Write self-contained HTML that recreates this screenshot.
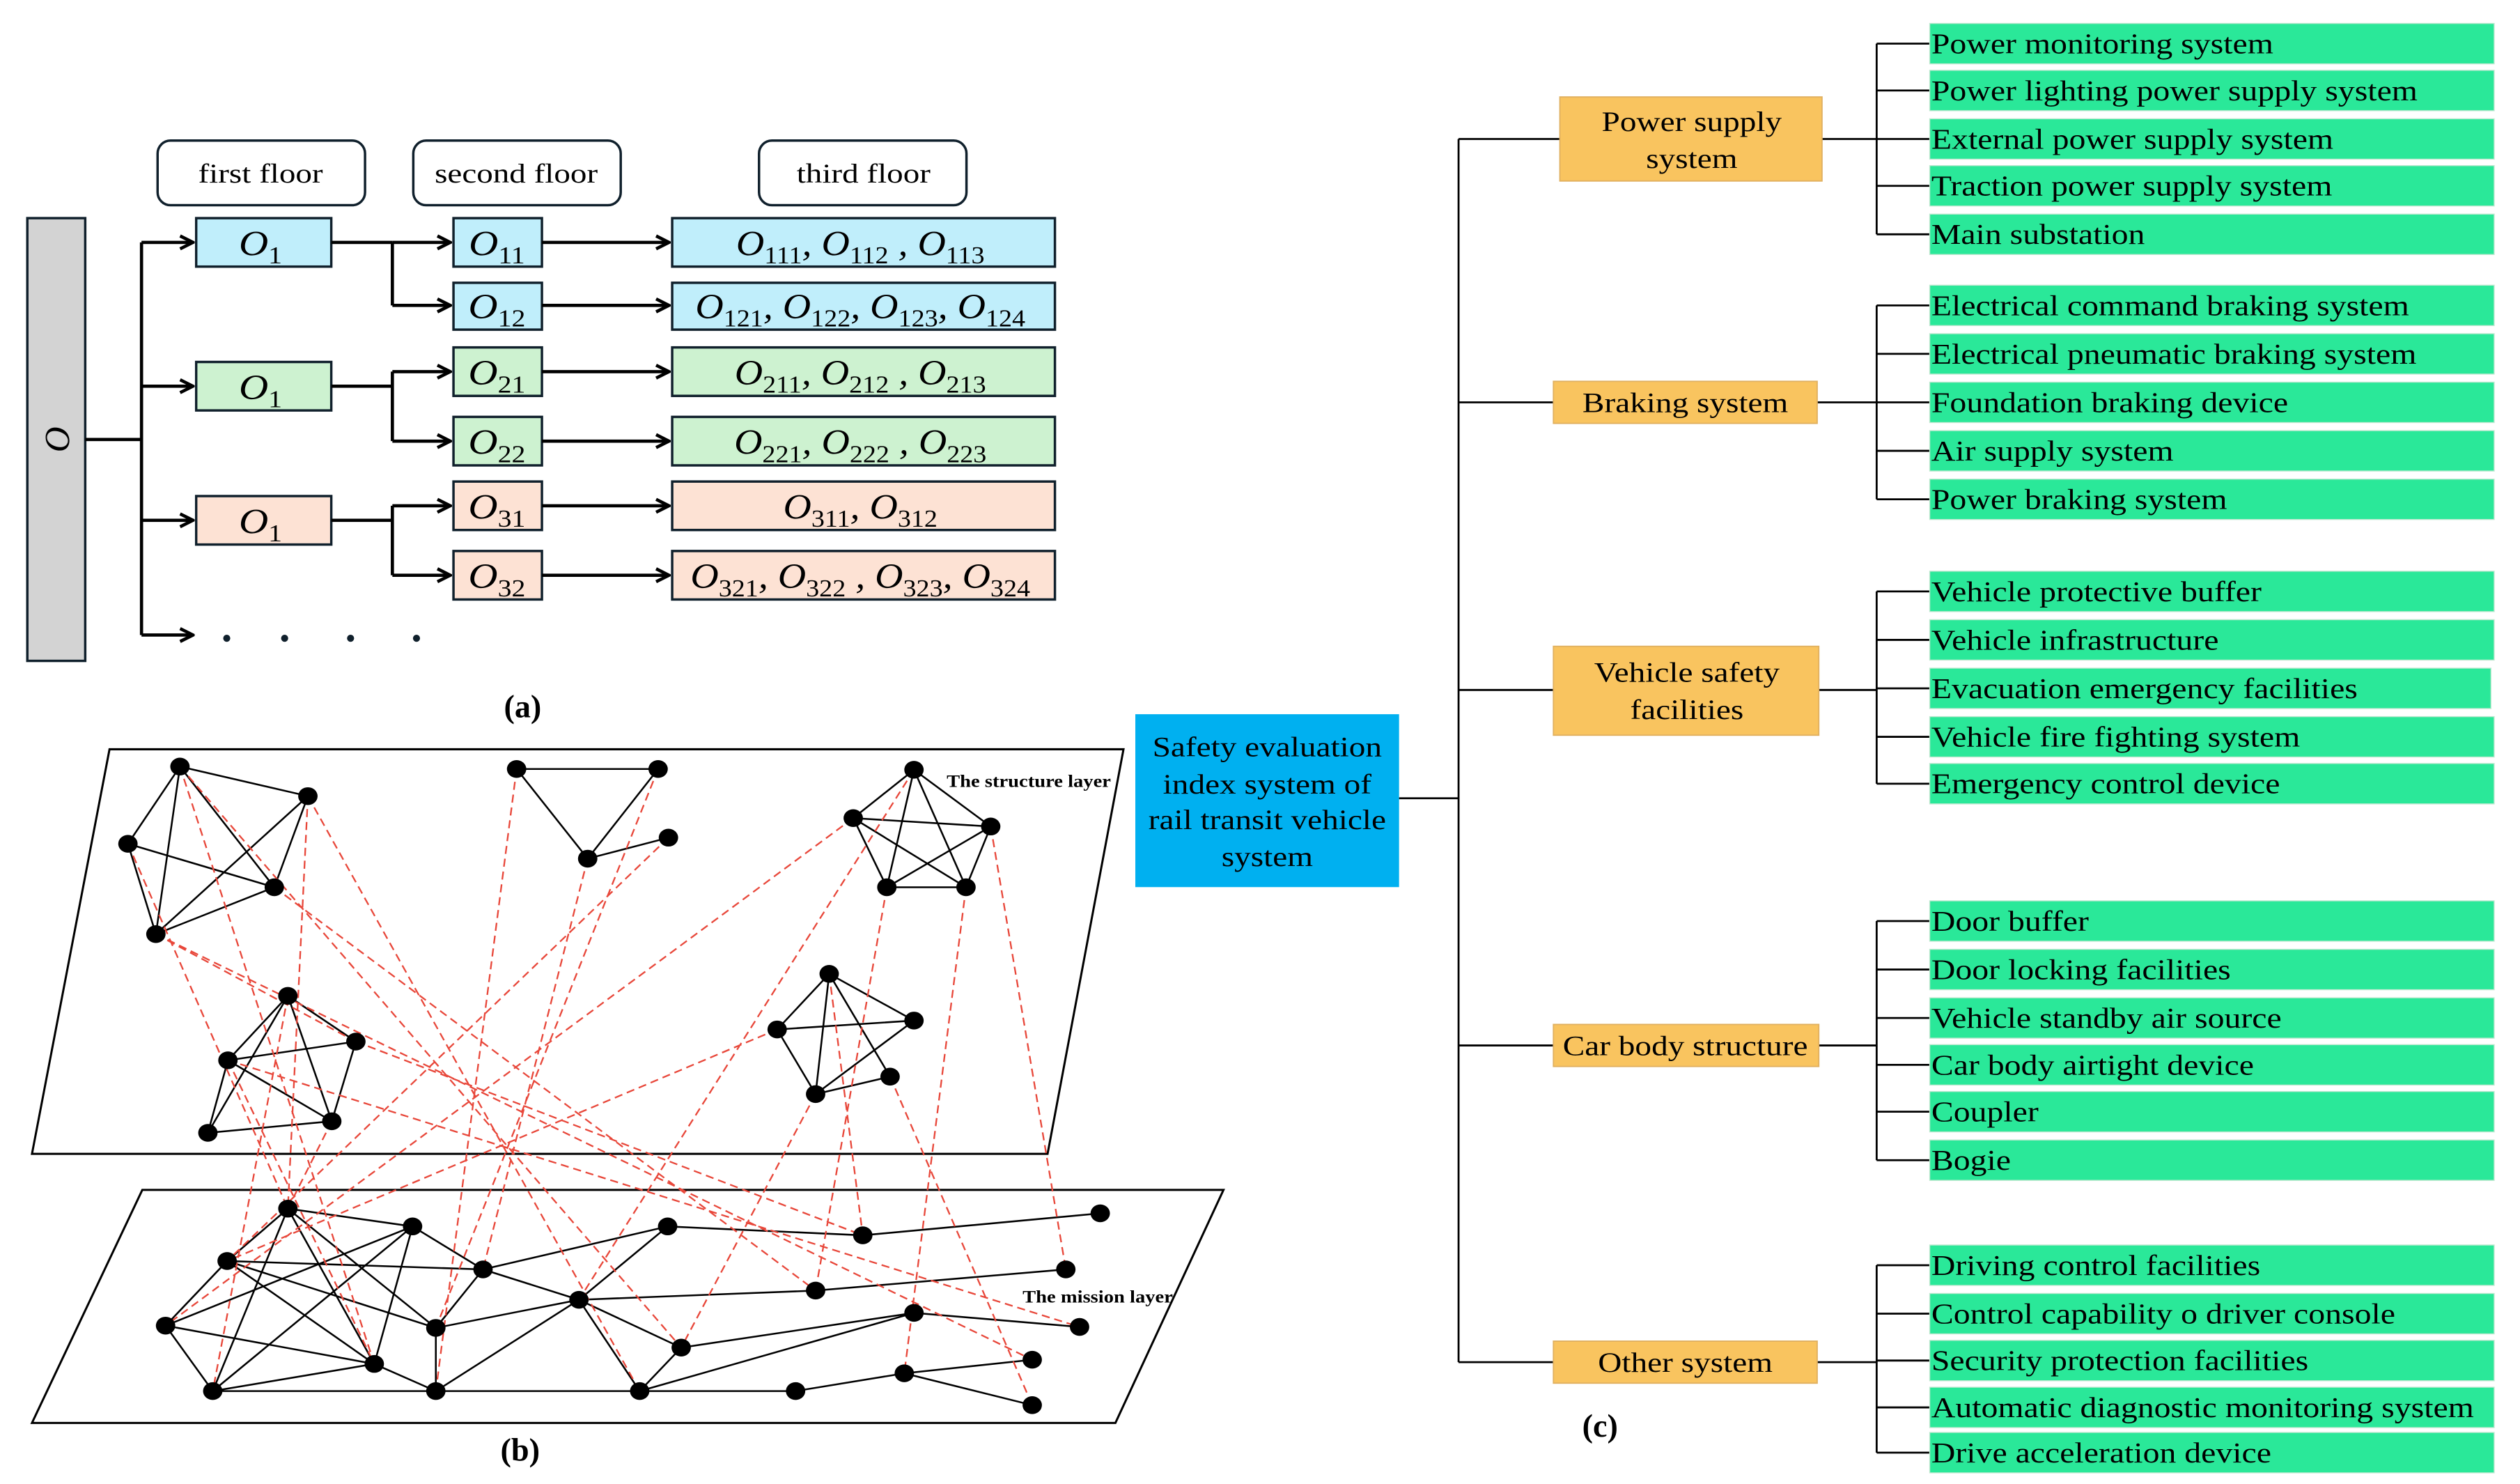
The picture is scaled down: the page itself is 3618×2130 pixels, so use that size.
<!DOCTYPE html>
<html><head><meta charset="utf-8"><style>
html,body{margin:0;padding:0;background:#fff}
svg{display:block}
text{font-family:"Liberation Serif",serif}
.o{font-style:italic;font-size:22px}
.s{font-style:normal;font-size:15px}
</style></head><body>
<svg width="3618" height="2130" viewBox="0 0 1560 918.4" xmlns="http://www.w3.org/2000/svg">
<defs><marker id="ar" markerWidth="10" markerHeight="10" refX="9" refY="5" orient="auto" markerUnits="userSpaceOnUse"><path d="M1,1 L9,5 L1,9" fill="none" stroke="#000" stroke-width="2"/></marker></defs>
<rect width="1560" height="918.4" fill="#fff"/>
<g transform="scale(0.9955,1)">
<!-- (a) -->
<g stroke="#10202c" stroke-width="1.5">
<rect x="98" y="87" width="129" height="40" rx="8" fill="#fff"/>
<rect x="257" y="87" width="129" height="40" rx="8" fill="#fff"/>
<rect x="472" y="87" width="129" height="40" rx="8" fill="#fff"/>
<rect x="17" y="135" width="36" height="274" fill="#d3d3d3"/>
<rect x="122" y="135" width="84" height="30" fill="#c0eefb"/>
<rect x="122" y="224" width="84" height="30" fill="#cdf2d0"/>
<rect x="122" y="307" width="84" height="30" fill="#fde2d4"/>
<rect x="282" y="135" width="55" height="30" fill="#c0eefb"/>
<rect x="282" y="175" width="55" height="29" fill="#c0eefb"/>
<rect x="282" y="215" width="55" height="30" fill="#cdf2d0"/>
<rect x="282" y="258" width="55" height="30" fill="#cdf2d0"/>
<rect x="282" y="298" width="55" height="30" fill="#fde2d4"/>
<rect x="282" y="341" width="55" height="30" fill="#fde2d4"/>
<rect x="418" y="135" width="238" height="30" fill="#c0eefb"/>
<rect x="418" y="175" width="238" height="29" fill="#c0eefb"/>
<rect x="418" y="215" width="238" height="30" fill="#cdf2d0"/>
<rect x="418" y="258" width="238" height="30" fill="#cdf2d0"/>
<rect x="418" y="298" width="238" height="30" fill="#fde2d4"/>
<rect x="418" y="341" width="238" height="30" fill="#fde2d4"/>
</g>
<g stroke="#000" stroke-width="2" fill="none">
<path d="M53,272 H88 M88,150 V393"/>
<path d="M88,150 H120" marker-end="url(#ar)"/><path d="M88,239 H120" marker-end="url(#ar)"/>
<path d="M88,322 H120" marker-end="url(#ar)"/><path d="M88,393 H120" marker-end="url(#ar)"/>
<path d="M206,150 H244 M244,150 V189 M206,239 H244 M244,230 V273 M206,322 H244 M244,313 V356"/>
<path d="M244,150 H280" marker-end="url(#ar)"/><path d="M244,189 H280" marker-end="url(#ar)"/>
<path d="M244,230 H280" marker-end="url(#ar)"/><path d="M244,273 H280" marker-end="url(#ar)"/>
<path d="M244,313 H280" marker-end="url(#ar)"/><path d="M244,356 H280" marker-end="url(#ar)"/>
<path d="M337,150 H416" marker-end="url(#ar)"/><path d="M337,189 H416" marker-end="url(#ar)"/>
<path d="M337,230 H416" marker-end="url(#ar)"/><path d="M337,273 H416" marker-end="url(#ar)"/>
<path d="M337,313 H416" marker-end="url(#ar)"/><path d="M337,356 H416" marker-end="url(#ar)"/>
</g>
<g fill="#10202c"><circle cx="141" cy="395" r="2.2"/><circle cx="177" cy="395" r="2.2"/><circle cx="218" cy="395" r="2.2"/><circle cx="259" cy="395" r="2.2"/></g>
<g font-size="17" text-anchor="middle">
<text transform="translate(162,113) scale(1.2,1)">first floor</text><text transform="translate(321,113) scale(1.2,1)">second floor</text><text transform="translate(537,113) scale(1.2,1)">third floor</text>
</g>
<text class="o" transform="translate(43,272) rotate(-90)" text-anchor="middle">O</text>
<g text-anchor="middle">
<text class="o" transform="translate(162,158) scale(1.15,1)">O<tspan class="s" dy="5">1</tspan></text>
<text class="o" transform="translate(162,247) scale(1.15,1)">O<tspan class="s" dy="5">1</tspan></text>
<text class="o" transform="translate(162,330) scale(1.15,1)">O<tspan class="s" dy="5">1</tspan></text>
<text class="o" transform="translate(309,158) scale(1.15,1)">O<tspan class="s" dy="5">11</tspan></text>
<text class="o" transform="translate(309,197) scale(1.15,1)">O<tspan class="s" dy="5">12</tspan></text>
<text class="o" transform="translate(309,238) scale(1.15,1)">O<tspan class="s" dy="5">21</tspan></text>
<text class="o" transform="translate(309,281) scale(1.15,1)">O<tspan class="s" dy="5">22</tspan></text>
<text class="o" transform="translate(309,321) scale(1.15,1)">O<tspan class="s" dy="5">31</tspan></text>
<text class="o" transform="translate(309,364) scale(1.15,1)">O<tspan class="s" dy="5">32</tspan></text>
<text class="o" transform="translate(535,158) scale(1.1,1)">O<tspan class="s" dy="5">111</tspan><tspan dy="-5">, O</tspan><tspan class="s" dy="5">112</tspan><tspan dy="-5"> , O</tspan><tspan class="s" dy="5">113</tspan></text>
<text class="o" transform="translate(535,197) scale(1.1,1)">O<tspan class="s" dy="5">121</tspan><tspan dy="-5">, O</tspan><tspan class="s" dy="5">122</tspan><tspan dy="-5">, O</tspan><tspan class="s" dy="5">123</tspan><tspan dy="-5">, O</tspan><tspan class="s" dy="5">124</tspan></text>
<text class="o" transform="translate(535,238) scale(1.1,1)">O<tspan class="s" dy="5">211</tspan><tspan dy="-5">, O</tspan><tspan class="s" dy="5">212</tspan><tspan dy="-5"> , O</tspan><tspan class="s" dy="5">213</tspan></text>
<text class="o" transform="translate(535,281) scale(1.1,1)">O<tspan class="s" dy="5">221</tspan><tspan dy="-5">, O</tspan><tspan class="s" dy="5">222</tspan><tspan dy="-5"> , O</tspan><tspan class="s" dy="5">223</tspan></text>
<text class="o" transform="translate(535,321) scale(1.1,1)">O<tspan class="s" dy="5">311</tspan><tspan dy="-5">, O</tspan><tspan class="s" dy="5">312</tspan></text>
<text class="o" transform="translate(535,364) scale(1.1,1)">O<tspan class="s" dy="5">321</tspan><tspan dy="-5">, O</tspan><tspan class="s" dy="5">322</tspan><tspan dy="-5"> , O</tspan><tspan class="s" dy="5">323</tspan><tspan dy="-5">, O</tspan><tspan class="s" dy="5">324</tspan></text>
</g>
<text x="325" y="444" font-size="20" font-weight="bold" text-anchor="middle">(a)</text>

<!-- (c) -->
<g stroke="#000" stroke-width="1.2" fill="none">
<path d="M870,494H907M907,86V843M907,86H970M907,249H966M907,427H966M907,647H966M907,843H966"/>
<path d="M1133,86H1167M1167,27V145M1167,27H1200M1167,56H1200M1167,86H1200M1167,115H1200M1167,145H1200"/>
<path d="M1130,249H1167M1167,189V309M1167,189H1200M1167,219H1200M1167,249H1200M1167,279H1200M1167,309H1200"/>
<path d="M1131,427H1167M1167,366V485M1167,366H1200M1167,396H1200M1167,426H1200M1167,456H1200M1167,485H1200"/>
<path d="M1131,647H1167M1167,570V718M1167,570H1200M1167,600H1200M1167,630H1200M1167,659H1200M1167,688H1200M1167,718H1200"/>
<path d="M1130,843H1167M1167,783V899M1167,783H1200M1167,813H1200M1167,842H1200M1167,871H1200M1167,899H1200"/>
</g>
<rect x="706" y="442" width="164" height="107" fill="#00b0f0"/>
<g font-size="17.5" text-anchor="middle">
<text transform="translate(788,468) scale(1.17,1)">Safety evaluation</text><text transform="translate(788,491) scale(1.17,1)">index system of</text><text transform="translate(788,513) scale(1.17,1)">rail transit vehicle</text><text transform="translate(788,536) scale(1.17,1)">system</text>
</g>
<g fill="#f9c45f" stroke="#e0b060" stroke-width="0.8">
<rect x="970" y="60" width="163" height="52"/><rect x="966" y="236" width="164" height="26"/><rect x="966" y="400" width="165" height="55"/><rect x="966" y="634" width="165" height="26"/><rect x="966" y="830" width="164" height="26"/>
</g>
<g font-size="17.5" text-anchor="middle">
<text transform="translate(1052,81) scale(1.17,1)">Power supply</text><text transform="translate(1052,104) scale(1.17,1)">system</text>
<text transform="translate(1048,255) scale(1.17,1)">Braking system</text>
<text transform="translate(1049,422) scale(1.17,1)">Vehicle safety</text><text transform="translate(1049,445) scale(1.17,1)">facilities</text>
<text transform="translate(1048,653) scale(1.17,1)">Car body structure</text>
<text transform="translate(1048,849) scale(1.17,1)">Other system</text>
</g>
<g fill="#2ae899" stroke="#bfe8d0" stroke-width="0.6">
<rect x="1200" y="14.5" width="351" height="25"/><rect x="1200" y="43.5" width="351" height="25"/><rect x="1200" y="73.5" width="351" height="25"/><rect x="1200" y="102.5" width="351" height="25"/><rect x="1200" y="132.5" width="351" height="25"/>
<rect x="1200" y="176.5" width="351" height="25"/><rect x="1200" y="206.5" width="351" height="25"/><rect x="1200" y="236.5" width="351" height="25"/><rect x="1200" y="266.5" width="351" height="25"/><rect x="1200" y="296.5" width="351" height="25"/>
<rect x="1200" y="353.5" width="351" height="25"/><rect x="1200" y="383.5" width="351" height="25"/><rect x="1200" y="413.5" width="349" height="25"/><rect x="1200" y="443.5" width="351" height="25"/><rect x="1200" y="472.5" width="351" height="25"/>
<rect x="1200" y="557.5" width="351" height="25"/><rect x="1200" y="587.5" width="351" height="25"/><rect x="1200" y="617.5" width="351" height="25"/><rect x="1200" y="646.5" width="351" height="25"/><rect x="1200" y="675.5" width="351" height="25"/><rect x="1200" y="705.5" width="351" height="25"/>
<rect x="1200" y="770.5" width="351" height="25"/><rect x="1200" y="800.5" width="351" height="25"/><rect x="1200" y="829.5" width="351" height="25"/><rect x="1200" y="858.5" width="351" height="25"/><rect x="1200" y="886.5" width="351" height="25"/>
</g>
<g transform="translate(1201,0) scale(1.15,1)" font-size="18">
<text x="0" y="33">Power monitoring system</text><text x="0" y="62">Power lighting power supply system</text><text x="0" y="92">External power supply system</text><text x="0" y="121">Traction power supply system</text><text x="0" y="151">Main substation</text>
<text x="0" y="195">Electrical command braking system</text><text x="0" y="225">Electrical pneumatic braking system</text><text x="0" y="255">Foundation braking device</text><text x="0" y="285">Air supply system</text><text x="0" y="315">Power braking system</text>
<text x="0" y="372">Vehicle protective buffer</text><text x="0" y="402">Vehicle infrastructure</text><text x="0" y="432">Evacuation emergency facilities</text><text x="0" y="462">Vehicle fire fighting system</text><text x="0" y="491">Emergency control device</text>
<text x="0" y="576">Door buffer</text><text x="0" y="606">Door locking facilities</text><text x="0" y="636">Vehicle standby air source</text><text x="0" y="665">Car body airtight device</text><text x="0" y="694">Coupler</text><text x="0" y="724">Bogie</text>
<text x="0" y="789">Driving control facilities</text><text x="0" y="819">Control capability o driver console</text><text x="0" y="848">Security protection facilities</text><text x="0" y="877">Automatic diagnostic monitoring system</text><text x="0" y="905">Drive acceleration device</text>
</g>
<text x="995" y="889" font-size="20" font-weight="bold" text-anchor="middle">(c)</text>
</g>

<!-- (b) -->
<polygon points="67.8,463.7 695.5,463.7 648.5,714.1 19.8,714.1" fill="none" stroke="#000" stroke-width="1.3"/>
<polygon points="88.1,736.4 757.4,736.4 690.5,880.6 19.8,880.6" fill="none" stroke="#000" stroke-width="1.3"/>
<text transform="translate(586,487) scale(1.12,1)" font-size="11" font-weight="bold">The structure layer</text>
<text transform="translate(633,806) scale(1.12,1)" font-size="11" font-weight="bold">The mission layer</text>
<text x="322" y="904" font-size="20" font-weight="bold" text-anchor="middle">(b)</text>
<g stroke="#000" stroke-width="1.1">
<path d="M111.4,474.4L190.6,492.7M111.4,474.4L79.2,522.2M111.4,474.4L169.8,549.1M111.4,474.4L96.5,578.1M79.2,522.2L169.8,549.1M79.2,522.2L96.5,578.1M190.6,492.7L96.5,578.1M190.6,492.7L169.8,549.1M169.8,549.1L96.5,578.1"/>
<path d="M178.2,616.3L220.3,644.6M178.2,616.3L141.1,656.2M178.2,616.3L128.7,701.1M178.2,616.3L205.4,693.9M141.1,656.2L220.3,644.6M141.1,656.2L205.4,693.9M220.3,644.6L205.4,693.9M128.7,701.1L205.4,693.9M141.1,656.2L128.7,701.1"/>
<path d="M319.8,475.9L407.4,475.9M319.8,475.9L363.8,531.4M407.4,475.9L363.8,531.4M363.8,531.4L413.8,518.4"/>
<path d="M565.8,476.4L528.2,506.3M565.8,476.4L613.3,511.5M565.8,476.4L549,549.1M565.8,476.4L598,549.1M528.2,506.3L613.3,511.5M528.2,506.3L549,549.1M528.2,506.3L598,549.1M613.3,511.5L549,549.1M613.3,511.5L598,549.1M549,549.1L598,549.1"/>
<path d="M513.3,602.7L481.1,637.1M513.3,602.7L565.8,631.6M513.3,602.7L504.9,677.1M513.3,602.7L551,666.3M481.1,637.1L565.8,631.6M481.1,637.1L504.9,677.1M565.8,631.6L504.9,677.1M504.9,677.1L551,666.3"/>
<path d="M178.2,748L255.4,759M178.2,748L140.6,780.4M178.2,748L131.7,860.9M178.2,748L231.7,844.1M178.2,748L269.8,821.8M140.6,780.4L299,785.6M140.6,780.4L102.5,820.4M140.6,780.4L269.8,821.8M140.6,780.4L231.7,844.1M255.4,759L299,785.6M255.4,759L102.5,820.4M255.4,759L231.7,844.1M255.4,759L131.7,860.9M299,785.6L269.8,821.8M299,785.6L413.3,759M299,785.6L358.4,804.4M102.5,820.4L231.7,844.1M102.5,820.4L131.7,860.9M131.7,860.9L231.7,844.1M131.7,860.9L492.5,860.9M231.7,844.1L269.8,860.9M269.8,821.8L269.8,860.9M269.8,821.8L358.4,804.4M269.8,860.9L358.4,804.4M358.4,804.4L413.3,759M358.4,804.4L504.9,798.7M358.4,804.4L421.7,834M358.4,804.4L396,860.9M413.3,759L534.1,764.5M534.1,764.5L681.1,750.9M504.9,798.7L659.8,785.6M421.7,834L565.8,812.5M396,860.9L421.7,834M396,860.9L565.8,812.5M565.8,812.5L668.3,821.2M492.5,860.9L559.8,849.9M559.8,849.9L639,841.5M559.8,849.9L639,869.6"/>
</g>
<g stroke="#e8473a" stroke-width="1" stroke-dasharray="5,3" fill="none">
<path d="M111.4,474.4L231.7,844.1M111.4,474.4L421.7,834M190.6,492.7L396,860.9M190.6,492.7L178.2,748M79.2,522.2L178.2,748M96.5,578.1L220.3,644.6M220.3,644.6L534.1,764.5M169.8,549.1L504.9,798.7M141.1,656.2L668.3,821.2M141.1,656.2L231.7,844.1M205.4,693.9L178.2,748M178.2,616.3L131.7,860.9M319.8,475.9L269.8,860.9M407.4,475.9L269.8,821.8M363.8,531.4L299,785.6M413.8,518.4L140.6,780.4M565.8,476.4L358.4,804.4M528.2,506.3L102.5,820.4M613.3,511.5L659.8,785.6M549,549.1L504.9,798.7M598,549.1L559.8,849.9M513.3,602.7L534.1,764.5M481.1,637.1L140.6,780.4M504.9,677.1L421.7,834M551,666.3L639,869.6M96.5,578.1L639,841.5"/>
</g>
<g fill="#000">
<ellipse cx="111.4" cy="474.4" rx="6" ry="5.5"/><ellipse cx="190.6" cy="492.7" rx="6" ry="5.5"/><ellipse cx="79.2" cy="522.2" rx="6" ry="5.5"/><ellipse cx="169.8" cy="549.1" rx="6" ry="5.5"/><ellipse cx="96.5" cy="578.1" rx="6" ry="5.5"/>
<ellipse cx="178.2" cy="616.3" rx="6" ry="5.5"/><ellipse cx="220.3" cy="644.6" rx="6" ry="5.5"/><ellipse cx="141.1" cy="656.2" rx="6" ry="5.5"/><ellipse cx="128.7" cy="701.1" rx="6" ry="5.5"/><ellipse cx="205.4" cy="693.9" rx="6" ry="5.5"/>
<ellipse cx="319.8" cy="475.9" rx="6" ry="5.5"/><ellipse cx="407.4" cy="475.9" rx="6" ry="5.5"/><ellipse cx="363.8" cy="531.4" rx="6" ry="5.5"/><ellipse cx="413.8" cy="518.4" rx="6" ry="5.5"/>
<ellipse cx="565.8" cy="476.4" rx="6" ry="5.5"/><ellipse cx="528.2" cy="506.3" rx="6" ry="5.5"/><ellipse cx="613.3" cy="511.5" rx="6" ry="5.5"/><ellipse cx="549" cy="549.1" rx="6" ry="5.5"/><ellipse cx="598" cy="549.1" rx="6" ry="5.5"/>
<ellipse cx="513.3" cy="602.7" rx="6" ry="5.5"/><ellipse cx="481.1" cy="637.1" rx="6" ry="5.5"/><ellipse cx="565.8" cy="631.6" rx="6" ry="5.5"/><ellipse cx="551" cy="666.3" rx="6" ry="5.5"/><ellipse cx="504.9" cy="677.1" rx="6" ry="5.5"/>
<ellipse cx="178.2" cy="748" rx="6" ry="5.5"/><ellipse cx="255.4" cy="759" rx="6" ry="5.5"/><ellipse cx="140.6" cy="780.4" rx="6" ry="5.5"/><ellipse cx="299" cy="785.6" rx="6" ry="5.5"/><ellipse cx="102.5" cy="820.4" rx="6" ry="5.5"/><ellipse cx="269.8" cy="821.8" rx="6" ry="5.5"/><ellipse cx="231.7" cy="844.1" rx="6" ry="5.5"/><ellipse cx="131.7" cy="860.9" rx="6" ry="5.5"/><ellipse cx="269.8" cy="860.9" rx="6" ry="5.5"/>
<ellipse cx="413.3" cy="759" rx="6" ry="5.5"/><ellipse cx="534.1" cy="764.5" rx="6" ry="5.5"/><ellipse cx="681.1" cy="750.9" rx="6" ry="5.5"/><ellipse cx="358.4" cy="804.4" rx="6" ry="5.5"/><ellipse cx="504.9" cy="798.7" rx="6" ry="5.5"/><ellipse cx="659.8" cy="785.6" rx="6" ry="5.5"/><ellipse cx="421.7" cy="834" rx="6" ry="5.5"/><ellipse cx="565.8" cy="812.5" rx="6" ry="5.5"/><ellipse cx="668.3" cy="821.2" rx="6" ry="5.5"/><ellipse cx="396" cy="860.9" rx="6" ry="5.5"/><ellipse cx="492.5" cy="860.9" rx="6" ry="5.5"/><ellipse cx="559.8" cy="849.9" rx="6" ry="5.5"/><ellipse cx="639" cy="841.5" rx="6" ry="5.5"/><ellipse cx="639" cy="869.6" rx="6" ry="5.5"/>
</g>
</svg>
</body></html>
